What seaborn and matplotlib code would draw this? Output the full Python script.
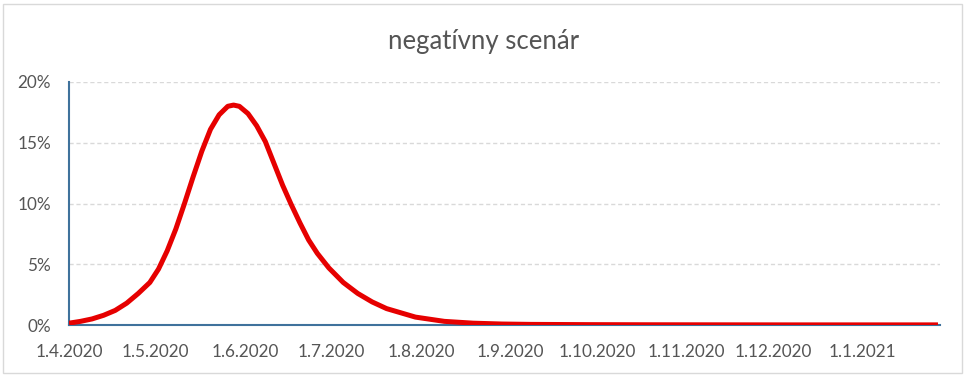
import pandas as pd
import seaborn as sns
import matplotlib.pyplot as plt
import matplotlib.dates as mdates
from matplotlib.patches import Rectangle
from matplotlib.ticker import FuncFormatter

# negative scenario curve (days since 1.4.2020, share in %)
day_offsets = [0, 4, 8, 12, 16, 20, 24, 28, 31, 34, 37, 40, 43, 46, 49, 52, 55, 57,
               59, 62, 65, 68, 71, 74, 77, 80, 83, 86, 90, 95, 100, 105, 110, 120,
               130, 140, 150, 160, 180, 200, 250, 301]
share_pct = [0.15, 0.3, 0.5, 0.8, 1.2, 1.8, 2.6, 3.5, 4.6, 6.1, 7.9, 10.0, 12.2, 14.3,
             16.1, 17.3, 18.0, 18.1, 18.0, 17.4, 16.4, 15.1, 13.3, 11.5, 9.9, 8.4,
             7.0, 5.9, 4.7, 3.5, 2.6, 1.9, 1.35, 0.65, 0.3, 0.15, 0.08, 0.05, 0.03,
             0.02, 0.01, 0.01]
title = "negatívny scenár"
start = pd.Timestamp("2020-04-01")

df = pd.DataFrame({
    "date": start + pd.to_timedelta(day_offsets, unit="D"),
    "share": [v / 100 for v in share_pct],
})

sns.set_style("white")
plt.rcParams["font.family"] = ["Lato", "DejaVu Sans"]
text_col = "#555555"

fig = plt.figure(figsize=(9.68, 3.79), dpi=100)
ax = fig.add_axes([69 / 968, 1 - 325 / 379, (940 - 69) / 968, (325 - 82) / 379])

sns.lineplot(data=df, x="date", y="share", color="#e60000", lw=3.6, ax=ax,
             solid_capstyle="butt", zorder=3)

ax.set_xlim(start, start + pd.Timedelta(days=301.7))
ax.set_ylim(0, 0.20)
ax.set_yticks([0, 0.05, 0.10, 0.15, 0.20])
ax.yaxis.set_major_formatter(FuncFormatter(lambda v, p: f"{v * 100:.0f}%"))
ax.xaxis.set_major_locator(mdates.MonthLocator())
ax.xaxis.set_major_formatter(FuncFormatter(
    lambda v, p: (lambda d: f"{d.day}.{d.month}.{d.year}")(mdates.num2date(v))))

ax.grid(axis="y", color="#d9d9d9", linestyle=(0, (3, 2)), lw=1)
ax.set_axisbelow(True)
for s in ["top", "right"]:
    ax.spines[s].set_visible(False)
ax.spines["left"].set_color("#3f729c")
ax.spines["bottom"].set_color("#3f729c")
ax.spines["left"].set_linewidth(1.5)
ax.spines["bottom"].set_linewidth(1.5)

ax.tick_params(axis="both", length=0, labelsize=12.3, colors=text_col)
ax.tick_params(axis="y", pad=13)
ax.tick_params(axis="x", pad=14)
ax.set_xlabel("")
ax.set_ylabel("")

fig.text(0.5, 1 - 42 / 379, title, ha="center", va="center", fontsize=18.5, color=text_col)

fig.patches.append(Rectangle((3 / 968, 6 / 379), 959 / 968, 369 / 379,
                             transform=fig.transFigure, fill=False,
                             edgecolor="#d9d9d9", lw=1))

fig.savefig("out.png", dpi=100)
